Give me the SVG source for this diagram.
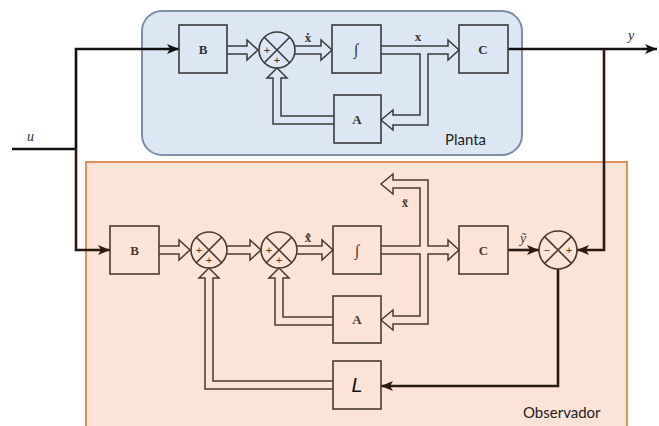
<svg xmlns="http://www.w3.org/2000/svg" width="659" height="426" viewBox="0 0 659 426">
<defs>
<style>
.blk{fill:none;stroke:#3a3a3a;stroke-width:1.6}
.oblk{fill:none;stroke:#4a3a30;stroke-width:1.6}
.pipe{fill:none;stroke:#3a3a3a;stroke-width:1.5;stroke-linejoin:miter}
.opipe{fill:none;stroke:#4a3a30;stroke-width:1.5;stroke-linejoin:miter}
.sig{fill:none;stroke:#111;stroke-width:2.6}
.osig{fill:none;stroke:#2a1a12;stroke-width:2.6}
.lbl{font-family:"Liberation Serif",serif;font-weight:bold;font-size:13px;text-anchor:middle;fill:#333}
.olbl{font-family:"Liberation Serif",serif;font-weight:bold;font-size:13px;text-anchor:middle;fill:#4a3a30}
.int{font-family:"Liberation Serif",serif;font-style:italic;font-size:16px;text-anchor:middle}
.sgn{font-family:"Liberation Sans",sans-serif;font-size:11px;text-anchor:middle;fill:#333}
.var{font-family:"Liberation Serif",serif;font-style:italic;font-size:14px;fill:#333}
.ttl{font-family:"Lato","Liberation Sans",sans-serif;font-size:15px;fill:#222}
</style>
<marker id="ah" viewBox="0 0 12 10" refX="12" refY="5" markerWidth="12" markerHeight="10" markerUnits="userSpaceOnUse" orient="auto">
<path d="M0,0 L12,5 L0,10 L3,5 Z" fill="#111"/>
</marker>
<marker id="oah" viewBox="0 0 12 10" refX="12" refY="5" markerWidth="12" markerHeight="10" markerUnits="userSpaceOnUse" orient="auto">
<path d="M0,0 L12,5 L0,10 L3,5 Z" fill="#2a1a12"/>
</marker>
</defs>
<rect width="659" height="426" fill="#ffffff"/>

<g id="planta">
<rect x="142" y="11" width="380" height="144" rx="20" fill="#dde7f3" stroke="#7d8ea6" stroke-width="2"/>
<text class="ttl" x="445" y="145">Planta</text>
</g>
<g id="observador">
<rect x="86" y="162" width="541" height="280" fill="#fbe4d7" stroke="#e0915c" stroke-width="2"/>
<text class="ttl" x="523" y="418">Observador</text>
</g>

<g id="connectors">
<!-- input u -->
<path class="sig" d="M12,149 H76"/>
<path class="sig" d="M76,148 V49 H179" marker-end="url(#ah)"/>
<path class="osig" d="M76,148 V250 H110" marker-end="url(#oah)"/>
<!-- output y -->
<path class="sig" d="M508,49 H657" marker-end="url(#ah)"/>
<path class="osig" d="M604,49 V250 H577" marker-end="url(#oah)"/>
<!-- plant pipes -->
<path class="pipe" d="M227,46 H247 V40 L258,50 L247,60 V54 H227"/>
<path class="pipe" d="M295,46 H321 V40 L332,50 L321,60 V54 H295"/>
<path class="pipe" d="M381,46 H448 V40 L459,50 L448,60 V54 H428 V125 H393 V130 L381,120 L393,110 V115 H420 V54 H381"/>
<path class="pipe" d="M334,116 H281 V78 H287 L277,68 L267,78 H273 V124 H334"/>
<!-- observer pipes -->
<path class="opipe" d="M159,246 H179 V240 L190,250 L179,260 V254 H159"/>
<path class="opipe" d="M227,246 H250 V240 L261,250 L250,260 V254 H227"/>
<path class="opipe" d="M297,246 H322 V240 L333,250 L322,260 V254 H297"/>
<path class="opipe" d="M381,246 H420 V188 H393 V194 L381,184 L393,174 V180 H428 V246 H448 V240 L459,250 L448,260 V254 H428 V324 H393 V330 L381,320 L393,310 V316 H420 V254 H381"/>
<path class="opipe" d="M333,317 H283 V278 H289 L279,268 L269,278 H275 V325 H333"/>
<path class="opipe" d="M333,381 H213 V278 H219 L209,268 L199,278 H205 V389 H333"/>
<path class="osig" d="M508,250 H539" marker-end="url(#oah)"/>
<path class="osig" d="M558,269 V386 H381" marker-end="url(#oah)"/>
</g>

<!-- plant nodes -->
<g id="pB"><rect class="blk" x="179" y="25" width="48" height="48"/><text class="lbl" x="203" y="54">B</text></g>
<g id="pSum">
<circle class="blk" cx="277" cy="50" r="18"/>
<path class="blk" d="M264.3,37.3 L289.7,62.7 M289.7,37.3 L264.3,62.7"/>
<text class="sgn" x="267" y="54">+</text><text class="sgn" x="277" y="64">+</text>
</g>
<g id="pInt"><rect class="blk" x="332" y="25" width="49" height="48"/><text class="int" x="356" y="55" fill="#333">∫</text></g>
<g id="pC"><rect class="blk" x="459" y="25" width="49" height="48"/><text class="lbl" x="483" y="54">C</text></g>
<g id="pA"><rect class="blk" x="334" y="95" width="47" height="48"/><text class="lbl" x="357" y="124">A</text></g>

<!-- observer nodes -->
<g id="oB"><rect class="oblk" x="110" y="226" width="49" height="48"/><text class="olbl" x="134.5" y="255">B</text></g>
<g id="oSum1">
<circle class="oblk" cx="209" cy="250" r="18"/>
<path class="oblk" d="M196.3,237.3 L221.7,262.7 M221.7,237.3 L196.3,262.7"/>
<text class="sgn" x="199" y="254" style="fill:#4a3a30">+</text><text class="sgn" x="209" y="264" style="fill:#4a3a30">+</text>
</g>
<g id="oSum2">
<circle class="oblk" cx="279" cy="250" r="18"/>
<path class="oblk" d="M266.3,237.3 L291.7,262.7 M291.7,237.3 L266.3,262.7"/>
<text class="sgn" x="269" y="254" style="fill:#4a3a30">+</text><text class="sgn" x="279" y="264" style="fill:#4a3a30">+</text>
</g>
<g id="oInt"><rect class="oblk" x="333" y="226" width="48" height="48"/><text class="int" x="357" y="256" fill="#4a3a30">∫</text></g>
<g id="oC"><rect class="oblk" x="459" y="226" width="49" height="48"/><text class="olbl" x="483.5" y="255">C</text></g>
<g id="oA"><rect class="oblk" x="333" y="296" width="48" height="47"/><text class="olbl" x="357" y="324">A</text></g>
<g id="oL"><rect class="oblk" x="333" y="361" width="48" height="48"/><text x="357" y="392" style="font-family:'Liberation Sans',sans-serif;font-style:italic;font-size:20px;text-anchor:middle;fill:#111">L</text></g>
<g id="oSum3">
<circle class="oblk" cx="558" cy="250" r="19"/>
<path class="oblk" d="M544.6,236.6 L571.4,263.4 M571.4,236.6 L544.6,263.4"/>
<text class="sgn" x="547" y="254" style="fill:#4a3a30">−</text><text class="sgn" x="569" y="254" style="fill:#4a3a30">+</text>
</g>

<!-- labels -->
<g id="labels">
<text class="var" x="27" y="141">u</text>
<text class="var" x="628" y="40">y</text>
<text class="lbl" x="308" y="42">ẋ</text>
<text class="lbl" x="418" y="41">x</text>
<text class="olbl" x="308" y="242">x̃̇</text>
<text class="olbl" x="405" y="207">x̃</text>
<text class="var" x="520" y="243" style="fill:#4a3a30">ỹ</text>
</g>
</svg>
